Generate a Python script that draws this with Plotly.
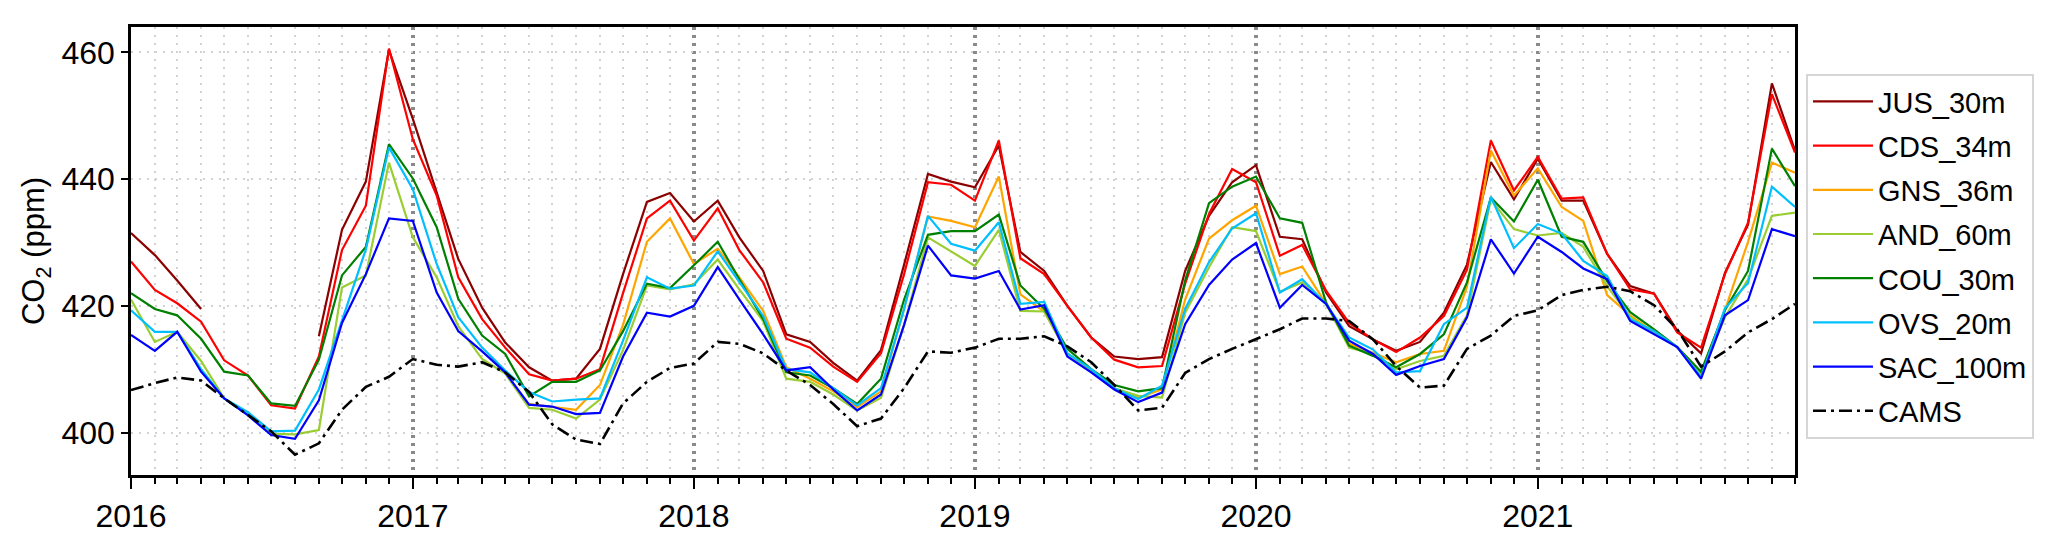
import pandas as pd
import plotly.graph_objects as go

months = pd.date_range("2016-01-01", "2021-12-01", freq="MS").strftime("%Y-%m-%d").tolist()

jus_30m = [431.5, 428.0, 424.0, 419.5, None, None, None, None, 415.2, 432.0, 439.6, 460.4,
           449.5, 437.9, 427.4, 419.7, 414.2, 410.3, 408.2, 408.5, 413.2, 425.0, 436.4, 437.8,
           433.3, 436.6, 430.8, 425.5, 415.5, 414.3, 411.0, 408.2, 413.0, 426.5, 440.8, 439.6,
           438.7, 445.3, 428.5, 425.5, 420.0, 415.0, 412.0, 411.6, 411.9, 425.5, 434.2, 439.5,
           442.2, 430.9, 430.5, 422.1, 416.8, 414.7, 412.9, 414.3, 418.9, 426.5, 442.7, 436.8,
           443.2, 436.6, 436.6, 428.2, 423.1, 421.9, 416.1, 412.5, 425.2, 432.8, 455.1, 444.5]

cds_34m = [427.0, 422.5, 420.4, 417.5, 411.4, 409.0, 404.3, 403.8, 412.0, 428.8, 435.8, 460.6,
           446.3, 437.4, 424.5, 417.9, 413.4, 409.2, 408.2, 408.5, 410.0, 422.0, 433.8, 436.6,
           430.3, 435.4, 428.8, 423.7, 414.8, 413.4, 410.4, 408.0, 412.5, 425.0, 439.5, 439.1,
           436.6, 446.1, 427.5, 425.0, 420.0, 415.0, 411.5, 410.3, 410.5, 423.5, 434.5, 441.6,
           439.5, 427.9, 429.6, 422.4, 417.3, 414.7, 412.7, 415.0, 418.4, 425.7, 446.1, 438.2,
           443.5, 436.9, 437.1, 428.2, 422.6, 421.9, 415.8, 413.4, 425.0, 433.1, 453.4, 444.2]

gns_36m = [None] * 17 + [404.5, 404.1, 403.6, 407.5, 417.0, 430.1, 433.8,
           426.6, 429.0, 424.5, 419.2, 410.3, 408.5, 406.5, 404.0, 406.5, 419.5, 434.1, 433.4,
           432.4, 440.4, 421.8, 419.1, 412.5, 409.8, 407.0, 405.5, 406.8, 421.0, 430.6, 433.5,
           435.8, 425.0, 426.2, 420.3, 414.0, 412.6, 411.1, 412.4, 412.9, 423.0, 444.5, 437.4,
           441.7, 435.6, 433.4, 421.7, 418.5, 415.8, 413.5, 409.5, 419.3, 430.1, 442.6, 441.0]

and_60m = [421.0, 414.3, 415.9, 411.3, 405.4, 403.0, 399.8, 399.7, 400.4, 422.9, 424.8, 442.6,
           430.8, 424.5, 416.8, 411.6, 409.3, 403.9, 403.6, 402.2, 405.2, 413.0, 423.2, 422.6,
           423.4, 427.3, 422.6, 417.6, 408.5, 408.0, 406.0, 403.5, 405.5, 417.0, 430.8, 428.6,
           426.3, 432.0, 419.2, 419.1, 412.5, 409.8, 407.0, 405.8, 405.5, 418.9, 426.1, 432.4,
           431.8, 422.2, 423.7, 420.3, 413.4, 412.4, 410.0, 411.3, 412.1, 418.5, 436.8, 432.1,
           431.1, 431.5, 429.3, 423.1, 418.2, 415.8, 413.5, 409.3, 418.2, 424.2, 434.2, 434.7]

cou_30m = [422.0, 419.5, 418.5, 414.8, 409.6, 409.0, 404.6, 404.2, 411.5, 424.8, 429.3, 445.5,
           440.1, 432.4, 421.1, 415.3, 412.4, 405.7, 408.0, 408.0, 409.8, 416.0, 423.5, 422.8,
           426.4, 430.1, 424.2, 417.9, 409.5, 409.0, 407.0, 404.5, 408.5, 421.0, 431.2, 431.8,
           431.8, 434.4, 423.2, 419.5, 413.2, 410.0, 407.5, 406.5, 407.0, 424.0, 436.2, 438.8,
           440.4, 433.8, 433.1, 420.5, 413.7, 412.1, 410.3, 412.4, 415.5, 423.7, 437.1, 433.3,
           439.9, 430.9, 430.1, 423.9, 419.0, 416.3, 413.5, 409.6, 419.3, 425.5, 444.8, 438.9]

ovs_20m = [419.3, 415.9, 415.9, 410.0, 405.4, 403.2, 400.2, 400.3, 406.8, 417.5, 428.9, 445.0,
           438.4, 426.6, 418.2, 413.4, 409.8, 406.4, 404.9, 405.2, 405.4, 414.5, 424.5, 422.7,
           423.2, 428.6, 423.7, 418.4, 410.0, 409.5, 407.0, 404.3, 407.0, 419.5, 434.2, 429.8,
           428.7, 433.2, 420.3, 420.6, 412.5, 410.0, 407.0, 405.3, 407.4, 419.5, 426.9, 432.2,
           434.6, 422.1, 424.2, 420.3, 415.0, 413.1, 409.5, 409.7, 417.1, 419.7, 437.2, 429.1,
           432.9, 431.4, 427.1, 424.7, 417.9, 416.0, 413.5, 408.8, 419.6, 423.6, 438.8, 435.6]

sac_100m = [415.4, 412.9, 415.9, 409.6, 405.4, 402.7, 399.6, 399.0, 405.1, 417.3, 425.0, 433.8,
            433.4, 422.1, 416.0, 412.8, 409.5, 404.4, 404.1, 402.9, 403.1, 412.0, 418.9, 418.3,
            420.0, 426.1, 421.0, 415.5, 409.8, 410.3, 406.8, 403.5, 406.0, 417.0, 429.5, 424.8,
            424.3, 425.5, 419.4, 420.1, 412.0, 409.5, 406.8, 404.8, 406.3, 417.1, 423.3, 427.3,
            429.9, 419.7, 423.3, 420.3, 414.5, 412.4, 409.1, 410.5, 411.6, 418.2, 430.5, 425.1,
            430.9, 428.5, 425.9, 424.2, 417.6, 415.5, 413.5, 408.5, 418.5, 420.9, 432.1, 431.0]

cams = [406.7, 407.8, 408.7, 408.2, 405.4, 402.7, 400.2, 396.5, 398.3, 403.6, 407.2, 408.8,
        411.6, 410.7, 410.4, 411.1, 409.5, 406.4, 401.3, 398.9, 398.2, 404.6, 408.0, 410.2,
        410.9, 414.3, 414.0, 412.5, 409.8, 407.5, 404.5, 401.0, 402.2, 407.0, 412.8, 412.6,
        413.4, 414.8, 414.8, 415.2, 413.6, 411.1, 407.5, 403.5, 403.9, 409.4, 411.6, 413.2,
        414.8, 416.3, 418.0, 418.0, 417.6, 414.7, 410.5, 407.1, 407.4, 413.2, 415.3, 418.4,
        419.3, 421.7, 422.5, 423.0, 422.3, 420.1, 416.3, 410.4, 412.8, 415.8, 417.9, 420.3]

series_names = ["JUS_30m", "CDS_34m", "GNS_36m", "AND_60m", "COU_30m", "OVS_20m", "SAC_100m", "CAMS"]
series_values = [jus_30m, cds_34m, gns_36m, and_60m, cou_30m, ovs_20m, sac_100m, cams]
series_colors = ["#8B0000", "#FF0000", "#FFA500", "#9ACD32", "#008000", "#00BFFF", "#0000FF", "#000000"]

FONT = "Liberation Sans, Arial, Helvetica, sans-serif"

fig = go.Figure()
for name, vals, col in zip(series_names, series_values, series_colors):
    is_cams = name == "CAMS"
    fig.add_trace(go.Scatter(
        x=months, y=vals, name=name, mode="lines",
        line=dict(color=col, width=2.6 if is_cams else 2.2,
                  dash="13px,5px,3px,5px" if is_cams else "solid"),
        connectgaps=False, legendgroup=name,
    ))

fig.update_layout(
    width=2067, height=537,
    margin=dict(l=123, r=280, t=19, b=70),
    paper_bgcolor="white", plot_bgcolor="white",
    font=dict(family=FONT, size=32, color="black"),
    showlegend=True,
    legend=dict(
        x=1.0066, y=0.895, xanchor="left", yanchor="top",
        font=dict(family=FONT, size=29, color="black"),
        bordercolor="#d6d6d6", borderwidth=2, bgcolor="white",
        itemwidth=60, tracegroupgap=3.5,
    ),
)

fig.update_xaxes(
    type="date",
    range=["2016-01-01", "2021-12-01"],
    tick0="2016-01-01", dtick="M12", tickformat="%Y",
    ticks="outside", ticklen=11, tickwidth=2, tickcolor="black",
    tickfont=dict(family=FONT, size=32, color="black"),
    showline=True, linecolor="black", linewidth=2.5, mirror=True,
    showgrid=True, gridcolor="#8a8a8a", gridwidth=3.5, griddash="3px,5px",
    minor=dict(dtick="M1", ticks="outside", ticklen=6, tickwidth=1.6, tickcolor="black",
               showgrid=True, gridcolor="#d2d2d2", gridwidth=1.8, griddash="2px,6px"),
    zeroline=False,
)

fig.update_yaxes(
    range=[393.3, 464.0],
    tick0=400, dtick=20,
    ticks="outside", ticklen=7, tickwidth=2, tickcolor="black",
    tickfont=dict(family=FONT, size=32, color="black"),
    showline=True, linecolor="black", linewidth=2.5, mirror=True,
    showgrid=True, gridcolor="#d2d2d2", gridwidth=1.8, griddash="2px,6px",
    zeroline=False,
    title=dict(text="CO<sub>2</sub> (ppm)", font=dict(family=FONT, size=31, color="black"), standoff=8),
)

fig.write_html("out.html")
